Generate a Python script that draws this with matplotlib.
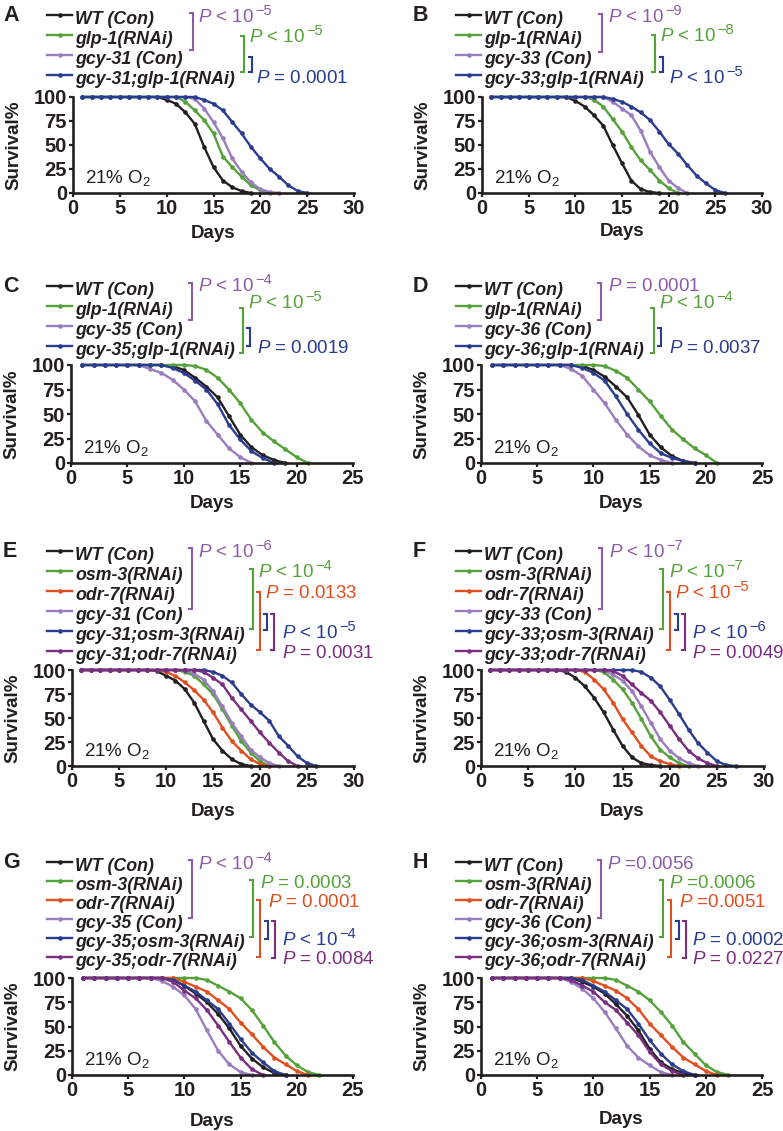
import numpy as np
import matplotlib
matplotlib.use("Agg")
import matplotlib.pyplot as plt

plt.rcParams['font.family'] = ['Liberation Sans', 'DejaVu Sans']
plt.rcParams['mathtext.fontset'] = 'custom'
plt.rcParams['mathtext.rm'] = 'Liberation Sans'
plt.rcParams['mathtext.it'] = 'Liberation Sans:italic'
plt.rcParams['mathtext.bf'] = 'Liberation Sans:bold'

W, H = 783, 1131            # figure size in pixels (dpi 100)

BLACK = '#231f20'
GREEN = '#55a23a'
ORANGE = '#df4f1f'
LAV = '#9b7cc0'             # gcy-xx control curves
NAVY = '#2a3c8f'
PLUM = '#7b2d80'
PTXT = '#8c5ca9'            # first bracket / p-value

# --- survival data: % alive, one value per day starting at day 1 -----------

# A: gcy-31 x glp-1(RNAi)
A_labels = ["WT (Con)", "glp-1(RNAi)", "gcy-31 (Con)", "gcy-31;glp-1(RNAi)"]
A_wt = [100] * 9 + [97, 93, 84, 72, 48, 27, 13, 6, 2, 0]
A_glp = [100] * 11 + [95, 86, 76, 62, 38, 27, 17, 8, 3, 0]
A_gcy = [100] * 12 + [98, 88, 74, 57, 36, 22, 11, 4, 1, 0]
A_gcy_glp = [100] * 13 + [97, 93, 86, 74, 62, 48, 36, 25, 17, 8, 2, 0]
A_p = ["P < 10^−5", "P < 10^−5", "P = 0.0001"]

# B: gcy-33 x glp-1(RNAi)
B_labels = ["WT (Con)", "glp-1(RNAi)", "gcy-33 (Con)", "gcy-33;glp-1(RNAi)"]
B_wt = [100] * 9 + [96, 90, 81, 70, 50, 31, 13, 4, 1, 0]
B_glp = [100] * 11 + [97, 90, 77, 64, 48, 34, 24, 13, 5, 0]
B_gcy = [100] * 13 + [95, 88, 81, 65, 43, 27, 13, 5, 0]
B_gcy_glp = [100] * 13 + [98, 95, 90, 84, 76, 64, 51, 41, 29, 18, 10, 3, 0]
B_p = ["P < 10^−9", "P < 10^−8", "P < 10^−5"]

# C: gcy-35 x glp-1(RNAi)
C_labels = ["WT (Con)", "glp-1(RNAi)", "gcy-35 (Con)", "gcy-35;glp-1(RNAi)"]
C_wt = [100] * 8 + [99, 95, 87, 78, 67, 48, 29, 16, 8, 3, 0]
C_glp = [100] * 10 + [99, 95, 87, 75, 61, 44, 31, 22, 14, 6, 0]
C_gcy = [100] * 6 + [96, 92, 85, 75, 63, 43, 29, 15, 6, 0]
C_gcy_glp = [100] * 8 + [97, 92, 84, 75, 60, 39, 24, 12, 5, 0]
C_p = ["P < 10^−4", "P < 10^−5", "P = 0.0019"]

# D: gcy-36 x glp-1(RNAi)
D_labels = ["WT (Con)", "glp-1(RNAi)", "gcy-36 (Con)", "gcy-36;glp-1(RNAi)"]
D_wt = [100] * 8 + [99, 95, 88, 78, 67, 49, 29, 16, 7, 2, 0]
D_glp = [100] * 10 + [99, 94, 87, 75, 63, 48, 34, 24, 15, 8, 0]
D_gcy = [100] * 7 + [96, 89, 75, 61, 44, 29, 17, 8, 3, 0]
D_gcy_glp = [100] * 8 + [97, 92, 84, 68, 50, 34, 20, 10, 5, 2, 0]
D_p = ["P = 0.0001", "P < 10^−4", "P = 0.0037"]

# E: gcy-31 x osm-3 / odr-7 (RNAi)
E_labels = ["WT (Con)", "osm-3(RNAi)", "odr-7(RNAi)", "gcy-31 (Con)",
            "gcy-31;osm-3(RNAi)", "gcy-31;odr-7(RNAi)"]
E_wt = [100] * 8 + [99, 94, 89, 80, 66, 47, 28, 16, 7, 2, 0]
E_osm = [100] * 11 + [98, 94, 85, 75, 59, 42, 26, 14, 5, 0]
E_odr = [100] * 9 + [98, 94, 87, 79, 69, 56, 40, 26, 16, 7, 2, 0]
E_gcy = [100] * 12 + [96, 90, 78, 62, 45, 31, 17, 9, 3, 0]
E_gcy_osm = [100] * 14 + [98, 94, 87, 75, 64, 56, 47, 31, 21, 10, 3, 0]
E_gcy_odr = [100] * 13 + [98, 92, 85, 71, 59, 47, 35, 24, 14, 5, 0]
E_p = ["P < 10^−6", "P < 10^−4", "P = 0.0133", "P < 10^−5", "P = 0.0031"]

# F: gcy-33 x osm-3 / odr-7 (RNAi)
F_labels = ["WT (Con)", "osm-3(RNAi)", "odr-7(RNAi)", "gcy-33 (Con)",
            "gcy-33;osm-3(RNAi)", "gcy-33;odr-7(RNAi)"]
F_wt = [100] * 8 + [98, 92, 83, 71, 56, 38, 21, 9, 3, 1, 0]
F_osm = [100] * 12 + [98, 90, 80, 66, 49, 31, 17, 9, 3, 0]
F_odr = [100] * 10 + [98, 90, 80, 66, 49, 35, 21, 10, 5, 2, 0]
F_gcy = [100] * 13 + [95, 89, 78, 62, 45, 28, 16, 8, 3, 0]
F_gcy_osm = [100] * 16 + [98, 92, 83, 69, 54, 38, 24, 14, 5, 1, 0]
F_gcy_odr = [100] * 13 + [99, 94, 85, 76, 68, 56, 42, 28, 16, 8, 3, 0]
F_p = ["P < 10^−7", "P < 10^−7", "P < 10^−5", "P < 10^−6", "P = 0.0049"]

# G: gcy-35 x osm-3 / odr-7 (RNAi)
G_labels = ["WT (Con)", "osm-3(RNAi)", "odr-7(RNAi)", "gcy-35 (Con)",
            "gcy-35;osm-3(RNAi)", "gcy-35;odr-7(RNAi)"]
G_wt = [100] * 8 + [98, 92, 84, 75, 63, 48, 30, 17, 8, 2, 0]
G_osm = [100] * 11 + [98, 92, 86, 79, 67, 51, 34, 20, 10, 3, 0]
G_odr = [100] * 9 + [96, 91, 86, 77, 68, 54, 42, 29, 18, 11, 4, 0]
G_gcy = [100] * 7 + [97, 91, 82, 68, 46, 25, 11, 3, 0]
G_gcy_osm = [100] * 8 + [98, 92, 86, 77, 68, 53, 37, 23, 13, 4, 0]
G_gcy_odr = [100] * 8 + [96, 87, 79, 67, 51, 34, 18, 6, 0]
G_p = ["P < 10^−4", "P = 0.0003", "P = 0.0001", "P < 10^−4", "P = 0.0084"]

# H: gcy-36 x osm-3 / odr-7 (RNAi)
H_labels = ["WT (Con)", "osm-3(RNAi)", "odr-7(RNAi)", "gcy-36 (Con)",
            "gcy-36;osm-3(RNAi)", "gcy-36;odr-7(RNAi)"]
H_wt = [100] * 8 + [96, 91, 84, 73, 61, 46, 27, 13, 6, 2, 0]
H_osm = [100] * 11 + [98, 92, 86, 77, 65, 51, 34, 22, 10, 3, 0]
H_odr = [100] * 9 + [97, 92, 87, 79, 68, 53, 41, 29, 18, 11, 4, 0]
H_gcy = [100] * 7 + [96, 89, 79, 65, 48, 30, 18, 10, 3, 0]
H_gcy_osm = [100] * 8 + [98, 92, 86, 77, 68, 53, 36, 22, 11, 4, 0]
H_gcy_odr = [100] * 7 + [98, 92, 86, 75, 67, 54, 41, 24, 11, 4, 0]
H_p = ["P =0.0056", "P =0.0006", "P =0.0051", "P = 0.0002", "P = 0.0227"]

COL4 = [BLACK, GREEN, LAV, NAVY]
COL6 = [BLACK, GREEN, ORANGE, LAV, NAVY, PLUM]
BR4 = [PTXT, GREEN, NAVY]
BR6 = [PTXT, GREEN, ORANGE, NAVY, PLUM]

# --- layout (pixels, y from top) --------------------------------------------
# box = (left, right, top, bottom) of the plotting area
# brackets = (x, top, bottom), ptext = (x, y of cap centre)
panels = [
    dict(letter="A", box=(73, 354, 97, 193), xmax=30, col=0,
         rows=[15, 35, 55, 75], labels=A_labels, colors=COL4,
         series=[A_wt, A_glp, A_gcy, A_gcy_glp], pvals=A_p, bcols=BR4,
         brackets=[(193, 13, 50), (244, 36, 72), (252, 57, 72)],
         ptext=[(198, 15), (249, 35), (256, 76)], days_y=233),
    dict(letter="B", box=(482, 762, 97, 193), xmax=30, col=1,
         rows=[15, 35, 55, 75], labels=B_labels, colors=COL4,
         series=[B_wt, B_glp, B_gcy, B_gcy_glp], pvals=B_p, bcols=BR4,
         brackets=[(602, 14, 52), (655, 35, 72), (663, 57, 72)],
         ptext=[(608, 15), (660, 34), (669, 76)], days_y=232),
    dict(letter="C", box=(71, 353, 365, 463), xmax=25, col=0,
         rows=[286, 306, 326, 346], labels=C_labels, colors=COL4,
         series=[C_wt, C_glp, C_gcy, C_gcy_glp], pvals=C_p, bcols=BR4,
         brackets=[(192, 283, 320), (243, 308, 353), (250, 328, 346)],
         ptext=[(198, 284), (248, 301), (257, 346)], days_y=503),
    dict(letter="D", box=(481, 762, 365, 463), xmax=25, col=1,
         rows=[286, 306, 326, 346], labels=D_labels, colors=COL4,
         series=[D_wt, D_glp, D_gcy, D_gcy_glp], pvals=D_p, bcols=BR4,
         brackets=[(601, 283, 320), (654, 308, 353), (661, 328, 346)],
         ptext=[(608, 284), (659, 301), (669, 346)], days_y=503),
    dict(letter="E", box=(72, 354, 670, 766), xmax=30, col=0,
         rows=[551, 571, 591, 611, 631, 651], labels=E_labels, colors=COL6,
         series=[E_wt, E_osm, E_odr, E_gcy, E_gcy_osm, E_gcy_odr],
         pvals=E_p, bcols=BR6,
         brackets=[(192, 548, 609), (253, 569, 629), (260, 592, 650),
                   (267, 614, 630), (274, 614, 650)],
         ptext=[(198, 550), (258, 570), (265, 591), (282, 631), (282, 651)],
         days_y=811),
    dict(letter="F", box=(481, 764, 670, 766), xmax=30, col=1,
         rows=[551, 571, 591, 611, 631, 651], labels=F_labels, colors=COL6,
         series=[F_wt, F_osm, F_odr, F_gcy, F_gcy_osm, F_gcy_odr],
         pvals=F_p, bcols=BR6,
         brackets=[(602, 548, 609), (663, 569, 629), (670, 592, 650),
                   (678, 614, 630), (685, 614, 650)],
         ptext=[(609, 550), (669, 570), (675, 591), (692, 631), (692, 651)],
         days_y=811),
    dict(letter="G", box=(72, 353, 978, 1075), xmax=25, col=0,
         rows=[862, 881, 900, 919, 938, 957], labels=G_labels, colors=COL6,
         series=[G_wt, G_osm, G_odr, G_gcy, G_gcy_osm, G_gcy_odr],
         pvals=G_p, bcols=BR6,
         brackets=[(192, 860, 918), (253, 880, 937), (260, 900, 957),
                   (268, 921, 939), (275, 921, 958)],
         ptext=[(198, 862), (260, 881), (268, 900), (282, 938), (282, 957)],
         days_y=1121),
    dict(letter="H", box=(481, 762, 978, 1075), xmax=25, col=1,
         rows=[862, 881, 900, 919, 938, 957], labels=H_labels, colors=COL6,
         series=[H_wt, H_osm, H_odr, H_gcy, H_gcy_osm, H_gcy_odr],
         pvals=H_p, bcols=BR6,
         brackets=[(601, 860, 918), (663, 880, 937), (671, 900, 957),
                   (679, 921, 939), (686, 921, 958)],
         ptext=[(607, 862), (669, 881), (679, 900), (692, 938), (692, 957)],
         days_y=1119),
]

LEG_X = [47, 456]           # legend line start for left / right column
LETTER_X = [3, 413]
LW, MS = 1.7, 3.3


def p_text(ov, x, y, txt, col):
    """'P < 10^−5' -> italic P, regular rest, larger-than-mathtext exponent."""
    base, _, exp = txt.partition('^')
    body = "$P$" + base[1:]
    t = ov.text(x, y + 7, body, fontsize=13.5, color=col, ha='left',
                va='baseline')
    if exp:
        ov.annotate(exp, xy=(1, 1), xycoords=t, xytext=(0.8, 3.5),
                    textcoords='offset points', fontsize=10.5, color=col,
                    ha='left', va='top')


def draw_panel(fig, ov, p):
    l, r, t, b = p['box']
    ax = fig.add_axes([l / W, 1 - b / H, (r - l) / W, (b - t) / H])
    for vals, col in zip(p['series'], p['colors']):
        days = np.arange(1, len(vals) + 1)
        ax.plot(days, vals, color=col, lw=LW, marker='o', ms=MS,
                mew=0, clip_on=False)
    ax.set_xlim(0, p['xmax'])
    ax.set_ylim(0, 100)
    ax.set_xticks(range(0, p['xmax'] + 1, 5))
    ax.set_yticks([0, 25, 50, 75, 100])
    for s in ('top', 'right'):
        ax.spines[s].set_visible(False)
    for s in ('left', 'bottom'):
        ax.spines[s].set_linewidth(1.9)
        ax.spines[s].set_color(BLACK)
    ax.tick_params(direction='out', length=2.8, width=1.6, labelsize=14.5,
                   colors=BLACK, pad=1.5)
    for lbl in ax.get_xticklabels() + ax.get_yticklabels():
        lbl.set_fontweight('bold')
    ax.patch.set_alpha(0)
    ax.text(0.043, 0.105, "21% O$_2$", transform=ax.transAxes,
            fontsize=13.5, color=BLACK, va='baseline', ha='left')

    # axis titles
    ov.text((l + r) / 2, p['days_y'], "Days", fontsize=13.5, fontweight='bold',
            ha='center', va='center', color=BLACK)
    ov.text(l - 59, (t + b) / 2, "Survival%", fontsize=13.5, fontweight='bold',
            rotation=90, ha='center', va='center', color=BLACK)

    # panel letter
    ov.text(LETTER_X[p['col']], p['rows'][0] + 6, p['letter'], fontsize=15.5,
            fontweight='bold', ha='left', va='baseline', color=BLACK)

    # hand-drawn legend
    x0 = LEG_X[p['col']]
    for y, lab, col in zip(p['rows'], p['labels'], p['colors']):
        ov.plot([x0, x0 + 25], [y, y], color=col, lw=LW)
        ov.plot([x0 + 12.5], [y], 'o', color=col, ms=MS, mew=0)
        ov.text(x0 + 28, y + 9, lab, fontsize=12.8, fontweight='bold',
                fontstyle='italic', ha='left', va='baseline', color=BLACK)

    # significance brackets
    for (bx, bt, bb), (tx, ty), txt, col in zip(p['brackets'], p['ptext'],
                                                 p['pvals'], p['bcols']):
        ov.plot([bx - 3, bx, bx, bx - 3], [bt, bt, bb, bb], color=col,
                lw=1.5, solid_joinstyle='miter')
        p_text(ov, tx, ty, txt, col)


fig = plt.figure(figsize=(W / 100, H / 100), dpi=100, facecolor='white')
ov = fig.add_axes([0, 0, 1, 1])
ov.set_xlim(0, W)
ov.set_ylim(H, 0)
ov.axis('off')
ov.set_zorder(5)

for p in panels:
    draw_panel(fig, ov, p)

fig.savefig("out.png", dpi=100, facecolor='white')
